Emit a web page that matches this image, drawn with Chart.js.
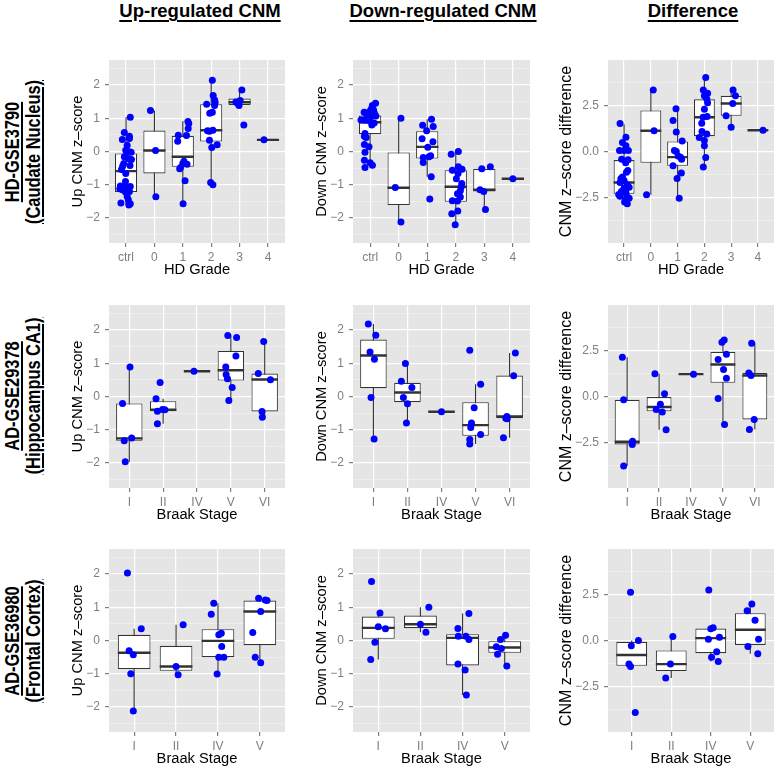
<!DOCTYPE html>
<html>
<head>
<meta charset="utf-8">
<script src="https://cdn.jsdelivr.net/npm/chart.js@4.4.1/dist/chart.umd.min.js"></script>
<style>
  body { margin: 0; background: #fff; }
  #page { position: relative; width: 778px; height: 770px; overflow: hidden; font-family: "Liberation Sans", Arial, sans-serif; }
  canvas { position: absolute; }
  .colTitle { position: absolute; top: 2px; font-weight: bold; font-size: 18.5px; line-height: 18.5px;
    text-decoration: underline; text-decoration-thickness: 2px; text-underline-offset: 3px;
    transform: translateX(-50%); white-space: nowrap; }
  .rowTitle { position: absolute; font-weight: bold; font-size: 20px; line-height: 21px; text-align: center;
    text-decoration: underline; text-decoration-thickness: 2px; text-underline-offset: 2px;
    white-space: nowrap; transform: translate(-50%, -50%) rotate(-90deg) scaleX(0.82); }
</style>
</head>
<body>
<div id="page">
  <div class="colTitle" style="left:200px">Up-regulated CNM</div>
  <div class="colTitle" style="left:443px">Down-regulated CNM</div>
  <div class="colTitle" style="left:693px">Difference</div>
  <div class="rowTitle" style="left:22.5px;top:151.5px">HD-GSE3790<br>(Caudate Nucleus)</div>
  <div class="rowTitle" style="left:22.5px;top:396px">AD-GSE29378<br>(Hippocampus CA1)</div>
  <div class="rowTitle" style="left:22.5px;top:640.5px">AD-GSE36980<br>(Frontal Cortex)</div>
</div>
<script>
// categories
const hdGrades = ['ctrl', '0', '1', '2', '3', '4'];
const braak29378 = ['I', 'II', 'IV', 'V', 'VI'];
const braak36980 = ['I', 'II', 'IV', 'V'];

// y ticks
const zTicks = [-2, -1, 0, 1, 2];
const zMinor = [-2.5, -1.5, -0.5, 0.5, 1.5, 2.5];
const diffTicks = [-2.5, 0, 2.5];
const diffMinor = [-3.75, -1.25, 1.25, 3.75];

// boxes: [low whisker, q1, median, q3, high whisker] per category
// points: per category, [jitter, value]
const hdUpBox = [[-1.61, -1.22, -0.59, -0.06, 1.03], [-1.36, -0.66, 0.03, 0.63, 1.23], [-1.57, -0.46, -0.16, 0.47, 0.92],
  [-1.0, 0.30, 0.64, 1.42, 2.14], [1.38, 1.40, 1.48, 1.59, 1.85], [0.35, 0.35, 0.35, 0.35, 0.35]];
const hdUpPts = [
  [[0.15, 1.03], [-0.06, 0.57], [0.12, 0.46], [0.12, 0.39], [-0.13, 0.36], [0.04, 0.19], [-0.01, 0.04], [0.11, -0.01], [0.04, -0.03],
   [0.18, -0.02], [-0.06, -0.16], [0.19, -0.24], [0.09, -0.22], [-0.08, -0.36], [-0.12, -0.44], [-0.16, -0.54], [-0.01, -0.66],
   [0.14, -0.42], [-0.02, -0.9], [-0.2, -1.04], [-0.22, -1.12], [-0.13, -1.15], [-0.04, -1.07], [0.07, -1.09], [0.15, -1.05],
   [0.12, -1.2], [-0.02, -1.22], [0.04, -1.35], [0.08, -1.45], [0.15, -1.57], [0.1, -1.61], [-0.18, -1.55]],
  [[-0.14, 1.23], [0.04, 0.03], [0.05, -1.36]],
  [[0.18, 0.9], [0.21, 0.84], [0.19, 0.69], [-0.16, 0.49], [0.13, 0.48], [-0.18, 0.31], [0.04, -0.29], [0, -0.36], [0.15, -0.38],
   [-0.08, -0.48], [-0.11, -0.52], [0.08, -0.88], [0.01, -1.57]],
  [[0.04, 2.14], [0.07, 1.68], [0.12, 1.55], [0.14, 1.47], [-0.16, 1.42], [0.12, 1.38], [0.04, 1.18], [-0.05, 1.15], [-0.13, 0.62],
   [-0.06, 0.61], [0.06, 0.64], [-0.06, 0.34], [0.21, 0.2], [0.02, 0.12], [-0.02, -0.93], [0.06, -1.0]],
  [[0.08, 1.85], [-0.13, 1.49], [-0.07, 1.45], [-0.02, 1.38], [0.02, 1.53], [0.15, 0.8]],
  [[-0.14, 0.35]]
];

const hdDownBox = [[-0.3, 0.52, 0.88, 1.08, 1.44], [-2.12, -1.61, -1.09, -0.03, 1.0], [-0.76, -0.21, 0.14, 0.61, 0.97],
  [-2.2, -1.51, -1.06, -0.56, 0.0], [-1.74, -1.2, -1.15, -0.52, -0.46], [-0.82, -0.82, -0.82, -0.82, -0.82]];
const hdDownPts = [
  [[0.19, 1.45], [0.08, 1.38], [0.04, 1.28], [0.12, 1.25], [-0.02, 1.2], [-0.21, 1.18], [0.15, 1.15], [-0.12, 1.1], [0.06, 1.07],
   [0.2, 1.07], [-0.32, 0.95], [-0.18, 0.94], [0, 0.91], [0.14, 0.86], [0.06, 0.8], [-0.18, 0.54], [-0.2, 0.46], [-0.14, 0.42],
   [-0.2, 0.21], [-0.04, 0.14], [-0.18, -0.02], [-0.2, -0.26], [0, -0.34], [0.08, -0.41], [-0.18, -0.48]],
  [[0.08, 1.0], [-0.12, -1.08], [0.08, -2.12]],
  [[0.15, 0.97], [-0.16, 0.79], [0.21, 0.75], [-0.02, 0.62], [-0.18, 0.38], [0.2, 0.29], [0.02, 0.13], [0.06, -0.16], [-0.14, -0.18],
   [0.12, -0.13], [-0.14, -0.33], [0.14, -0.76], [0.09, -1.43]],
  [[0.09, 0.0], [-0.16, -0.08], [0.09, -0.46], [0.22, -0.53], [-0.12, -0.56], [0.08, -0.66], [0.02, -0.82], [0.21, -0.96],
   [0.19, -1.07], [0.16, -1.18], [0.06, -1.27], [0.16, -1.37], [-0.12, -1.48], [0.06, -1.49], [0.07, -1.79], [-0.14, -1.87], [-0.02, -2.2]],
  [[0.21, -0.46], [-0.09, -0.52], [-0.15, -1.15], [-0.02, -1.2], [0.04, -1.74]],
  [[0, -0.82]]
];

const hdDiffBox = [[-2.85, -2.31, -1.69, -0.47, 1.49], [-2.36, -0.62, 1.13, 2.24, 3.36], [-2.55, -0.78, -0.31, 0.55, 2.36],
  [-0.85, 0.84, 1.87, 2.85, 4.07], [1.33, 1.95, 2.62, 3.04, 3.36], [1.16, 1.16, 1.16, 1.16, 1.16]];
const hdDiffPts = [
  [[-0.15, 1.53], [0.07, 0.78], [-0.06, 0.49], [0.07, 0.31], [-0.17, 0.05], [0.16, 0.05], [0, 0.05], [-0.09, -0.42], [0.15, -0.45],
   [0.06, -0.62], [0.14, -1.04], [0.09, -1.13], [-0.06, -1.4], [-0.12, -1.49], [0, -1.58], [-0.15, -1.69], [0.12, -1.82], [0.19, -1.95],
   [0, -2.0], [0.06, -2.09], [-0.1, -2.18], [0.07, -2.27], [-0.2, -2.35], [-0.15, -2.45], [0.12, -2.49], [0.19, -2.55], [0.06, -2.64],
   [0.02, -2.76], [0.12, -2.85]],
  [[0.09, 3.36], [0.12, 1.13], [-0.16, -2.36]],
  [[-0.06, 2.33], [-0.17, 1.69], [-0.05, 1.07], [0.17, 0.58], [-0.12, 0.05], [-0.05, 0.0], [0.02, -0.24], [0.11, -0.31], [0.15, -0.42],
   [-0.17, -0.78], [0.14, -1.18], [-0.02, -1.47], [0.06, -2.55]],
  [[0.05, 4.05], [-0.04, 3.36], [0.12, 3.18], [0, 3.04], [0.09, 2.87], [0.12, 2.67], [0, 2.31], [0.1, 1.91], [-0.05, 1.87], [-0.1, 1.55],
   [-0.09, 1.09], [0.09, 0.96], [-0.19, 0.76], [0, 0.6], [0, 0.31], [0.05, -0.33], [-0.04, -0.85]],
  [[0.07, 3.36], [0.16, 3.04], [0.06, 2.62], [-0.19, 1.95], [0, 1.33]],
  [[0.19, 1.16]]
];

const ad29UpBox = [[-1.96, -1.33, -1.26, -0.21, 0.89], [-0.82, -0.44, -0.4, -0.14, -0.07], [0.76, 0.76, 0.76, 0.76, 0.76],
  [-0.12, 0.48, 0.79, 1.37, 1.83], [-0.62, -0.45, 0.51, 0.69, 1.65]];
const ad29UpPts = [
  [[0.02, 0.89], [-0.2, -0.21], [0.07, -1.25], [-0.15, -1.33], [-0.12, -1.96]],
  [[-0.09, 0.42], [-0.21, -0.07], [-0.17, -0.44], [-0.02, -0.39], [0.05, -0.4], [-0.17, -0.82]],
  [[-0.09, 0.76]],
  [[-0.09, 1.83], [0.17, 1.77], [0.15, 1.22], [-0.15, 0.89], [-0.14, 0.66], [-0.1, 0.53], [0.04, 0.27], [-0.06, -0.12]],
  [[-0.03, 1.65], [-0.19, 0.69], [0.17, 0.5], [-0.08, -0.45], [-0.07, -0.62]]
];

const ad29DownBox = [[-1.28, 0.25, 1.23, 1.71, 2.18], [-0.8, -0.17, 0.12, 0.41, 0.99], [-0.46, -0.46, -0.46, -0.46, -0.46],
  [-1.43, -1.18, -0.86, -0.17, 0.37], [-1.24, -0.65, -0.6, 0.63, 1.31]];
const ad29DownPts = [
  [[-0.15, 2.18], [0.07, 1.84], [-0.1, 1.34], [0.03, 1.12], [-0.07, -0.03], [0.02, -1.28]],
  [[-0.06, 0.99], [-0.18, 0.46], [0.13, 0.27], [-0.12, -0.03], [0, -0.22], [-0.03, -0.8]],
  [[0, -0.46]],
  [[-0.17, 1.39], [0.15, 0.37], [-0.04, -0.34], [-0.12, -0.8], [-0.14, -0.93], [0.15, -1.14], [-0.17, -1.29], [-0.17, -1.43]],
  [[0.17, 1.31], [0.12, 0.62], [-0.08, -0.6], [-0.11, -0.65], [-0.07, -0.67], [-0.18, -1.24]]
];

const ad29DiffBox = [[-3.8, -2.62, -2.47, -0.18, 2.15], [-1.82, -0.81, -0.57, 0.0, 1.24], [1.22, 1.22, 1.22, 1.22, 1.22],
  [-1.53, 0.75, 1.75, 2.44, 3.09], [-1.8, -1.25, 1.15, 1.29, 2.91]];
const ad29DiffPts = [
  [[-0.15, 2.15], [-0.11, -0.18], [0.17, -2.45], [0.16, -2.62], [-0.11, -3.8]],
  [[-0.13, 1.24], [0.17, 0.15], [0.04, -0.42], [-0.09, -0.71], [0.1, -0.85], [0.22, -1.82]],
  [[0.08, 1.22]],
  [[0.04, 3.09], [-0.03, 2.96], [0.11, 2.31], [-0.15, 2.02], [0.02, 1.47], [0.11, 1.0], [-0.15, -0.11], [0.05, -1.53]],
  [[-0.1, 2.91], [-0.19, 1.29], [-0.12, 1.15], [-0.02, -1.25], [-0.17, -1.8]]
];

const ad36UpBox = [[-2.12, -0.86, -0.37, 0.17, 0.35], [-1.03, -0.91, -0.78, -0.16, 0.47], [-1.01, -0.5, -0.01, 0.34, 1.12],
  [-0.67, -0.14, 0.87, 1.2, 1.27]];
const ad36UpPts = [
  [[-0.16, 2.03], [0.17, 0.35], [-0.12, -0.31], [-0.02, -0.43], [-0.08, -1.0], [-0.02, -2.12]],
  [[0.17, 0.47], [0, -0.78], [0.05, -1.03]],
  [[-0.1, 1.12], [-0.16, 0.79], [0.08, 0.22], [0.02, 0.17], [0.09, -0.18], [0.02, -0.5], [0.14, -0.5], [-0.02, -1.01]],
  [[-0.03, 1.27], [0.13, 1.22], [0.17, 1.2], [0.02, 0.87], [-0.17, 0.24], [-0.11, -0.5], [0.02, -0.67]]
];

const ad36DownBox = [[-0.57, 0.05, 0.38, 0.72, 0.84], [0.25, 0.37, 0.49, 0.75, 1.0], [-1.64, -0.75, 0.08, 0.19, 0.81],
  [-0.77, -0.37, -0.21, -0.02, 0.16]];
const ad36DownPts = [
  [[-0.16, 1.77], [0.04, 0.83], [0, 0.41], [0.17, 0.35], [-0.08, -0.05], [-0.18, -0.57]],
  [[0.2, 1.0], [0, 0.49], [0.13, 0.25]],
  [[0.15, 0.81], [-0.11, 0.36], [0.08, 0.13], [0.15, 0.03], [-0.1, 0.13], [-0.11, -0.71], [0.06, -0.89], [0.09, -1.64]],
  [[0.02, 0.16], [-0.1, 0.03], [-0.2, -0.19], [-0.08, -0.24], [-0.17, -0.41], [0.05, -0.77]]
];

const ad36DiffBox = [[-1.42, -1.38, -0.79, -0.07, 0.0], [-2.05, -1.67, -1.29, -0.54, 0.22], [-1.15, -0.69, 0.13, 0.65, 0.69],
  [-0.73, -0.24, 0.59, 1.49, 2.0]];
const ad36DiffPts = [
  [[-0.03, 2.64], [0.17, 0.0], [-0.01, -0.29], [-0.07, -1.29], [-0.03, -1.42], [0.09, -3.93]],
  [[0.04, 0.22], [-0.02, -1.29], [-0.14, -2.05]],
  [[-0.05, 2.76], [0.06, 0.69], [0, 0.64], [0.22, 0.18], [-0.06, 0.07], [0.15, -0.62], [0.02, -0.91], [0.19, -1.15]],
  [[0.04, 2.0], [-0.08, 1.62], [0.12, 1.11], [0.21, 0.07], [-0.06, -0.33], [0.19, -0.73]]
];

Chart.defaults.font.family = '"Liberation Sans", Arial, sans-serif';

const BOX_W = 0.78;
const GREY = '#7f7f7f';
const minus = s => s.replace('-', '\u2212');

// grey panel background
const panelBg = {
  id: 'panelBg',
  beforeDraw(chart) {
    const { ctx, chartArea: a } = chart;
    ctx.save();
    ctx.fillStyle = '#e5e5e5';
    ctx.fillRect(a.left, a.top, a.right - a.left, a.bottom - a.top);
    ctx.restore();
  }
};

// layout of the grid (plot rectangles)
const cols = [
  { left: 69, yW: 40, plotW: 176, titleSize: 14.7 },
  { left: 313, yW: 40, plotW: 177, titleSize: 14.7 },
  { left: 557, yW: 51, plotW: 166, titleSize: 16 }
];
const rows = [60, 305, 549];
const PLOT_H = 183, X_H = 36;

const panels = [
  { r: 0, c: 0, cats: hdGrades, box: hdUpBox, pts: hdUpPts, diff: false, yTitle: 'Up CNM z\u2013score', xTitle: 'HD Grade' },
  { r: 0, c: 1, cats: hdGrades, box: hdDownBox, pts: hdDownPts, diff: false, yTitle: 'Down CNM z\u2013score', xTitle: 'HD Grade' },
  { r: 0, c: 2, cats: hdGrades, box: hdDiffBox, pts: hdDiffPts, diff: true, yTitle: 'CNM z\u2013score difference', xTitle: 'HD Grade' },
  { r: 1, c: 0, cats: braak29378, box: ad29UpBox, pts: ad29UpPts, diff: false, yTitle: 'Up CNM z\u2013score', xTitle: 'Braak Stage' },
  { r: 1, c: 1, cats: braak29378, box: ad29DownBox, pts: ad29DownPts, diff: false, yTitle: 'Down CNM z\u2013score', xTitle: 'Braak Stage' },
  { r: 1, c: 2, cats: braak29378, box: ad29DiffBox, pts: ad29DiffPts, diff: true, yTitle: 'CNM z\u2013score difference', xTitle: 'Braak Stage' },
  { r: 2, c: 0, cats: braak36980, box: ad36UpBox, pts: ad36UpPts, diff: false, yTitle: 'Up CNM z\u2013score', xTitle: 'Braak Stage' },
  { r: 2, c: 1, cats: braak36980, box: ad36DownBox, pts: ad36DownPts, diff: false, yTitle: 'Down CNM z\u2013score', xTitle: 'Braak Stage' },
  { r: 2, c: 2, cats: braak36980, box: ad36DiffBox, pts: ad36DiffPts, diff: true, yTitle: 'CNM z\u2013score difference', xTitle: 'Braak Stage' }
];

function drawPanel(p) {
  const col = cols[p.c];
  const canvas = document.createElement('canvas');
  canvas.width = col.yW + col.plotW;
  canvas.height = PLOT_H + X_H;
  canvas.style.left = col.left + 'px';
  canvas.style.top = rows[p.r] + 'px';
  document.getElementById('page').appendChild(canvas);

  const major = p.diff ? diffTicks : zTicks;
  const minor = p.diff ? diffMinor : zMinor;
  const lim = p.diff ? 5 : 2.75;
  const allTicks = major.concat(minor).sort((a, b) => a - b);
  const isMajor = v => major.includes(v);
  const fmt = v => minus(p.diff ? v.toFixed(1) : String(v));

  const whiskers = [], medians = [], boxes = [], dots = [];
  p.box.forEach((b, i) => {
    const c = i + 1;
    whiskers.push({ x: c, y: b[0] }, { x: c, y: b[4] }, { x: c, y: null });
    medians.push({ x: c - BOX_W / 2, y: b[2] }, { x: c + BOX_W / 2, y: b[2] }, { x: c, y: null });
    boxes.push({ x: c, y: [b[1], b[3]] });
    p.pts[i].forEach(pt => dots.push({ x: c + pt[0], y: pt[1] }));
  });

  new Chart(canvas, {
    type: 'scatter',
    data: {
      datasets: [
        { type: 'scatter', data: dots, order: 0, pointRadius: 3.5, pointBackgroundColor: '#0000ff',
          pointBorderWidth: 0, pointBorderColor: '#0000ff' },
        { type: 'line', data: medians, order: 1, borderColor: '#333333', borderWidth: 2.4, pointRadius: 0,
          spanGaps: false, fill: false, borderCapStyle: 'butt' },
        { type: 'bar', data: boxes, order: 2, backgroundColor: '#ffffff', borderColor: '#333333', borderWidth: 1.1,
          borderSkipped: false, barPercentage: BOX_W, categoryPercentage: 1 },
        { type: 'line', data: whiskers, order: 3, borderColor: '#333333', borderWidth: 1.1, pointRadius: 0,
          spanGaps: false, fill: false }
      ]
    },
    options: {
      responsive: false,
      animation: false,
      events: [],
      layout: { padding: 0, autoPadding: false },
      plugins: { legend: { display: false }, tooltip: { enabled: false } },
      scales: {
        x: {
          type: 'linear', min: 0.4, max: p.cats.length + 0.6, offset: false,
          afterBuildTicks: s => { s.ticks = p.cats.map((c, i) => ({ value: i + 1 })); },
          afterFit: s => { s.height = X_H; s.paddingLeft = 0; s.paddingRight = 0; },
          grid: { color: '#ffffff', lineWidth: 1.2, tickColor: GREY, tickLength: 4, offset: false },
          border: { display: false },
          ticks: { autoSkip: false, maxRotation: 0, color: GREY, font: { size: 12 }, padding: 3,
            callback: v => p.cats[Math.round(v) - 1] },
          title: { display: true, text: p.xTitle, color: '#000', font: { size: 14.7 }, padding: 0 }
        },
        y: {
          type: 'linear', min: -lim, max: lim,
          afterBuildTicks: s => { s.ticks = allTicks.map(v => ({ value: v })); },
          afterFit: s => { s.width = col.yW; s.paddingTop = 0; s.paddingBottom = 0; },
          grid: {
            color: ctx => isMajor(ctx.tick.value) ? '#ffffff' : '#f2f2f2',
            lineWidth: ctx => isMajor(ctx.tick.value) ? 1.2 : 0.7,
            tickColor: ctx => isMajor(ctx.tick.value) ? GREY : 'rgba(0,0,0,0)',
            tickLength: 4
          },
          border: { display: false },
          ticks: { autoSkip: false, color: GREY, font: { size: 12 }, padding: 5,
            callback: v => isMajor(v) ? fmt(v) : '' },
          title: { display: true, text: p.yTitle, color: '#000', font: { size: col.titleSize }, padding: 0 }
        }
      }
    },
    plugins: [panelBg]
  });
}

panels.forEach(drawPanel);
</script>
</body>
</html>
